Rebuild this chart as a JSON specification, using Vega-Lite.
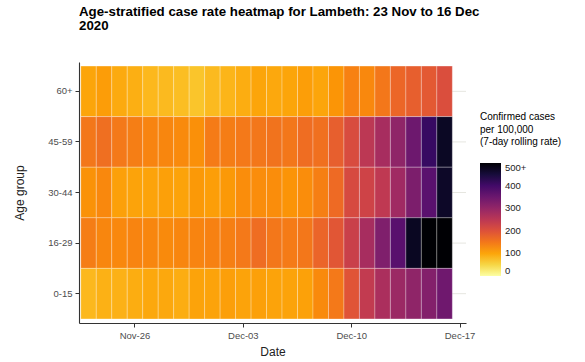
{
  "$schema": "https://vega.github.io/schema/vega-lite/v6.json",
  "width": 387,
  "height": 261,
  "autosize": {"type": "none"},
  "padding": {"left": 79, "top": 62, "right": 119, "bottom": 39},
  "background": "white",
  "config": {
    "font": "Liberation Sans",
    "view": {"stroke": null},
    "axis": {"labelFont": "Liberation Sans", "titleFont": "Liberation Sans"}
  },
  "title": {
    "text": ["Age-stratified case rate heatmap for Lambeth: 23 Nov to 16 Dec", "2020"],
    "anchor": "start",
    "frame": "group",
    "fontSize": 13.3,
    "fontWeight": "bold",
    "font": "Liberation Sans",
    "color": "black",
    "lineHeight": 13.5,
    "offset": 30
  },
  "layer": [
    {
      "data": {"values": [{"age": "60+"}, {"age": "45-59"}, {"age": "30-44"}, {"age": "16-29"}, {"age": "0-15"}]},
      "mark": {"type": "rule", "color": "#e6e6e0", "strokeWidth": 1},
      "encoding": {
        "x": {"datum": {"year": 2020, "month": 12, "date": 17, "utc": true}, "type": "temporal"},
        "x2": {"datum": {"year": 2020, "month": 12, "date": 17, "hours": 22, "utc": true}},
        "y": {"field": "age", "type": "nominal", "sort": ["60+", "45-59", "30-44", "16-29", "0-15"]}
      }
    },
    {
      "data": {
        "values": [
          {"date": "2020-11-23", "age": "60+", "rate": 100}, {"date": "2020-11-24", "age": "60+", "rate": 108}, {"date": "2020-11-25", "age": "60+", "rate": 95}, {"date": "2020-11-26", "age": "60+", "rate": 90}, {"date": "2020-11-27", "age": "60+", "rate": 80}, {"date": "2020-11-28", "age": "60+", "rate": 78}, {"date": "2020-11-29", "age": "60+", "rate": 75}, {"date": "2020-11-30", "age": "60+", "rate": 68},
          {"date": "2020-12-01", "age": "60+", "rate": 78}, {"date": "2020-12-02", "age": "60+", "rate": 83}, {"date": "2020-12-03", "age": "60+", "rate": 92}, {"date": "2020-12-04", "age": "60+", "rate": 100}, {"date": "2020-12-05", "age": "60+", "rate": 97}, {"date": "2020-12-06", "age": "60+", "rate": 100}, {"date": "2020-12-07", "age": "60+", "rate": 107}, {"date": "2020-12-08", "age": "60+", "rate": 100},
          {"date": "2020-12-09", "age": "60+", "rate": 117}, {"date": "2020-12-10", "age": "60+", "rate": 138}, {"date": "2020-12-11", "age": "60+", "rate": 130}, {"date": "2020-12-12", "age": "60+", "rate": 150}, {"date": "2020-12-13", "age": "60+", "rate": 170}, {"date": "2020-12-14", "age": "60+", "rate": 180}, {"date": "2020-12-15", "age": "60+", "rate": 188}, {"date": "2020-12-16", "age": "60+", "rate": 205},

          {"date": "2020-11-23", "age": "45-59", "rate": 150}, {"date": "2020-11-24", "age": "45-59", "rate": 160}, {"date": "2020-11-25", "age": "45-59", "rate": 148}, {"date": "2020-11-26", "age": "45-59", "rate": 142}, {"date": "2020-11-27", "age": "45-59", "rate": 135}, {"date": "2020-11-28", "age": "45-59", "rate": 132}, {"date": "2020-11-29", "age": "45-59", "rate": 128}, {"date": "2020-11-30", "age": "45-59", "rate": 122},
          {"date": "2020-12-01", "age": "45-59", "rate": 145}, {"date": "2020-12-02", "age": "45-59", "rate": 143}, {"date": "2020-12-03", "age": "45-59", "rate": 148}, {"date": "2020-12-04", "age": "45-59", "rate": 150}, {"date": "2020-12-05", "age": "45-59", "rate": 155}, {"date": "2020-12-06", "age": "45-59", "rate": 150}, {"date": "2020-12-07", "age": "45-59", "rate": 162}, {"date": "2020-12-08", "age": "45-59", "rate": 158},
          {"date": "2020-12-09", "age": "45-59", "rate": 180}, {"date": "2020-12-10", "age": "45-59", "rate": 208}, {"date": "2020-12-11", "age": "45-59", "rate": 248}, {"date": "2020-12-12", "age": "45-59", "rate": 275}, {"date": "2020-12-13", "age": "45-59", "rate": 305}, {"date": "2020-12-14", "age": "45-59", "rate": 348}, {"date": "2020-12-15", "age": "45-59", "rate": 412}, {"date": "2020-12-16", "age": "45-59", "rate": 468},

          {"date": "2020-11-23", "age": "30-44", "rate": 120}, {"date": "2020-11-24", "age": "30-44", "rate": 130}, {"date": "2020-11-25", "age": "30-44", "rate": 105}, {"date": "2020-11-26", "age": "30-44", "rate": 102}, {"date": "2020-11-27", "age": "30-44", "rate": 102}, {"date": "2020-11-28", "age": "30-44", "rate": 105}, {"date": "2020-11-29", "age": "30-44", "rate": 102}, {"date": "2020-11-30", "age": "30-44", "rate": 112},
          {"date": "2020-12-01", "age": "30-44", "rate": 107}, {"date": "2020-12-02", "age": "30-44", "rate": 112}, {"date": "2020-12-03", "age": "30-44", "rate": 125}, {"date": "2020-12-04", "age": "30-44", "rate": 125}, {"date": "2020-12-05", "age": "30-44", "rate": 125}, {"date": "2020-12-06", "age": "30-44", "rate": 118}, {"date": "2020-12-07", "age": "30-44", "rate": 125}, {"date": "2020-12-08", "age": "30-44", "rate": 140},
          {"date": "2020-12-09", "age": "30-44", "rate": 165}, {"date": "2020-12-10", "age": "30-44", "rate": 210}, {"date": "2020-12-11", "age": "30-44", "rate": 222}, {"date": "2020-12-12", "age": "30-44", "rate": 245}, {"date": "2020-12-13", "age": "30-44", "rate": 285}, {"date": "2020-12-14", "age": "30-44", "rate": 328}, {"date": "2020-12-15", "age": "30-44", "rate": 370}, {"date": "2020-12-16", "age": "30-44", "rate": 465},

          {"date": "2020-11-23", "age": "16-29", "rate": 143}, {"date": "2020-11-24", "age": "16-29", "rate": 132}, {"date": "2020-11-25", "age": "16-29", "rate": 130}, {"date": "2020-11-26", "age": "16-29", "rate": 135}, {"date": "2020-11-27", "age": "16-29", "rate": 132}, {"date": "2020-11-28", "age": "16-29", "rate": 128}, {"date": "2020-11-29", "age": "16-29", "rate": 132}, {"date": "2020-11-30", "age": "16-29", "rate": 135},
          {"date": "2020-12-01", "age": "16-29", "rate": 138}, {"date": "2020-12-02", "age": "16-29", "rate": 140}, {"date": "2020-12-03", "age": "16-29", "rate": 148}, {"date": "2020-12-04", "age": "16-29", "rate": 162}, {"date": "2020-12-05", "age": "16-29", "rate": 150}, {"date": "2020-12-06", "age": "16-29", "rate": 145}, {"date": "2020-12-07", "age": "16-29", "rate": 150}, {"date": "2020-12-08", "age": "16-29", "rate": 172},
          {"date": "2020-12-09", "age": "16-29", "rate": 192}, {"date": "2020-12-10", "age": "16-29", "rate": 230}, {"date": "2020-12-11", "age": "16-29", "rate": 275}, {"date": "2020-12-12", "age": "16-29", "rate": 325}, {"date": "2020-12-13", "age": "16-29", "rate": 372}, {"date": "2020-12-14", "age": "16-29", "rate": 470}, {"date": "2020-12-15", "age": "16-29", "rate": 530}, {"date": "2020-12-16", "age": "16-29", "rate": 550},

          {"date": "2020-11-23", "age": "0-15", "rate": 80}, {"date": "2020-11-24", "age": "0-15", "rate": 88}, {"date": "2020-11-25", "age": "0-15", "rate": 87}, {"date": "2020-11-26", "age": "0-15", "rate": 92}, {"date": "2020-11-27", "age": "0-15", "rate": 97}, {"date": "2020-11-28", "age": "0-15", "rate": 97}, {"date": "2020-11-29", "age": "0-15", "rate": 92}, {"date": "2020-11-30", "age": "0-15", "rate": 102},
          {"date": "2020-12-01", "age": "0-15", "rate": 102}, {"date": "2020-12-02", "age": "0-15", "rate": 106}, {"date": "2020-12-03", "age": "0-15", "rate": 102}, {"date": "2020-12-04", "age": "0-15", "rate": 105}, {"date": "2020-12-05", "age": "0-15", "rate": 102}, {"date": "2020-12-06", "age": "0-15", "rate": 102}, {"date": "2020-12-07", "age": "0-15", "rate": 104}, {"date": "2020-12-08", "age": "0-15", "rate": 128},
          {"date": "2020-12-09", "age": "0-15", "rate": 148}, {"date": "2020-12-10", "age": "0-15", "rate": 195}, {"date": "2020-12-11", "age": "0-15", "rate": 240}, {"date": "2020-12-12", "age": "0-15", "rate": 270}, {"date": "2020-12-13", "age": "0-15", "rate": 290}, {"date": "2020-12-14", "age": "0-15", "rate": 305}, {"date": "2020-12-15", "age": "0-15", "rate": 320}, {"date": "2020-12-16", "age": "0-15", "rate": 345}
        ]
      },
      "mark": {"type": "rect", "opacity": 1, "stroke": "white", "strokeWidth": 0.6, "strokeOpacity": 0.45},
      "encoding": {
        "x": {
          "field": "date",
          "timeUnit": "utcyearmonthdate",
          "type": "temporal",
          "title": "Date",
          "scale": {
            "domain": [
              {"year": 2020, "month": 11, "date": 22, "hours": 22, "utc": true},
              {"year": 2020, "month": 12, "date": 17, "hours": 22, "utc": true}
            ]
          },
          "axis": {
            "values": [
              {"year": 2020, "month": 11, "date": 26, "hours": 12, "utc": true},
              {"year": 2020, "month": 12, "date": 3, "hours": 12, "utc": true},
              {"year": 2020, "month": 12, "date": 10, "hours": 12, "utc": true},
              {"year": 2020, "month": 12, "date": 17, "hours": 12, "utc": true}
            ],
            "labelExpr": "utcFormat(datum.value, '%b-%d')",
            "grid": false,
            "domainColor": "#333333",
            "domainWidth": 1.1,
            "tickColor": "#333333",
            "tickSize": 4,
            "labelColor": "#4d4d4d",
            "labelFontSize": 9.5,
            "labelPadding": 3,
            "titleFontSize": 12,
            "titleFontWeight": "normal",
            "titleColor": "#222222",
            "titlePadding": 7
          }
        },
        "y": {
          "field": "age",
          "type": "nominal",
          "title": "Age group",
          "sort": ["60+", "45-59", "30-44", "16-29", "0-15"],
          "scale": {"paddingInner": 0, "paddingOuter": 0.08},
          "axis": {
            "grid": false,
            "domainColor": "#333333",
            "domainWidth": 1.1,
            "tickColor": "#333333",
            "tickSize": 4,
            "labelColor": "#4d4d4d",
            "labelFontSize": 9.5,
            "labelPadding": 3,
            "titleFontSize": 12,
            "titleFontWeight": "normal",
            "titleColor": "#222222",
            "titlePadding": 21
          }
        },
        "color": {
          "field": "rate",
          "type": "quantitative",
          "scale": {"scheme": "inferno", "reverse": true, "domain": [0, 500], "clamp": true},
          "legend": {
            "title": ["Confirmed cases", "\u00a0per 100,000", "\u00a0(7-day rolling rate)"],
            "titleFontSize": 10,
            "titleFontWeight": "normal",
            "titleColor": "black",
            "titleLineHeight": 12.5,
            "titlePadding": 16,
            "orient": "none",
            "legendX": 401,
            "legendY": 50,
            "gradientLength": 113,
            "gradientThickness": 21,
            "gradientStrokeWidth": 0,
            "values": [0, 100, 200, 300, 400, 500],
            "labelExpr": "datum.value >= 500 ? '500+' : datum.label",
            "labelFontSize": 9.5,
            "labelColor": "#222222",
            "labelOffset": 4
          }
        }
      }
    }
  ]
}
